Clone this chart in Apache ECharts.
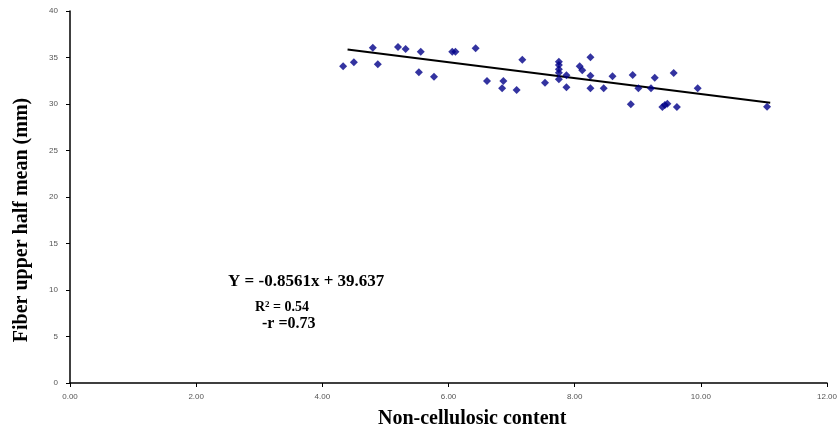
<!DOCTYPE html>
<html><head><meta charset="utf-8">
<script src="https://cdn.jsdelivr.net/npm/echarts@6/dist/echarts.min.js"></script>
<style>html,body{margin:0;padding:0;background:#fff}#c{width:840px;height:432px}</style>
</head><body><div id="c"></div>
<script>
const xValues = [4.33,4.50,4.80,4.88,5.20,5.32,5.56,5.53,5.77,6.06,6.11,6.43,6.61,6.87,6.85,7.08,7.17,7.53,7.75,7.75,7.75,7.75,7.75,7.87,7.87,8.08,8.12,8.25,8.25,8.25,8.46,8.60,8.92,9.01,8.89,9.21,9.27,9.57,9.39,9.43,9.47,9.62,9.95,11.05];
const yValues = [34.05,34.48,36.05,34.27,36.13,35.91,35.62,33.41,32.94,35.62,35.62,35.99,32.47,32.47,31.69,31.51,34.76,32.29,34.55,34.19,33.73,33.37,32.66,33.09,31.80,34.05,33.62,35.02,33.04,31.69,31.69,32.98,33.12,31.69,29.97,31.69,32.83,33.33,29.68,29.89,30.03,29.68,31.69,29.71];
const slope = -0.8561, intercept = 39.637;
const trendX = [4.4, 11.1];
const xTicks = [0,2,4,6,8,10,12];
const yTicks = [0,5,10,15,20,25,30,35,40];
const eqLines = ['Y = -0.8561x + 39.637', 'R{s|2} = 0.54', '-r =0.73'];

const chart = echarts.init(document.getElementById('c'));
const pts = xValues.map((x,i)=>[x,yValues[i]]);
const trend = trendX.map(x=>[x, slope*x+intercept]);
const serif = '"Liberation Serif","Times New Roman",serif';
chart.setOption({
  animation:false,
  grid:{left:70,right:10,top:11,bottom:49},
  xAxis:{type:'value',min:0,max:12,interval:2,
    axisLine:{lineStyle:{color:'#000',width:1.5}},
    axisTick:{show:true,length:4,lineStyle:{color:'#000'}},
    splitLine:{show:false},
    axisLabel:{fontSize:8,color:'#555',fontFamily:'Arial,"Liberation Sans",sans-serif',margin:10,formatter:v=>v.toFixed(2)}},
  yAxis:{type:'value',min:0,max:40,interval:5,
    axisLine:{show:true,lineStyle:{color:'#000',width:1.5}},
    axisTick:{show:true,length:4,lineStyle:{color:'#000'}},
    splitLine:{show:false},
    axisLabel:{fontSize:8,color:'#555',fontFamily:'Arial,"Liberation Sans",sans-serif',margin:12}},
  graphic:[
    {type:'text',left:378,top:409,style:{text:'Non-cellulosic content',font:'bold 20px '+serif,fill:'#000'}},
    {type:'text',x:22,y:220,rotation:Math.PI/2,style:{text:'Fiber upper half mean (mm)',font:'bold 20px '+serif,fill:'#000',align:'center',verticalAlign:'middle'}},
    {type:'text',left:228,top:273,style:{text:eqLines[0],font:'bold 17px '+serif,fill:'#000'}},
    {type:'text',left:255,top:300,style:{text:eqLines[1],font:'bold 14px '+serif,fill:'#000',rich:{s:{fontSize:9,verticalAlign:'top',fontWeight:'bold',fontFamily:serif,padding:[0,0,6,0]}}}},
    {type:'text',left:262,top:316,style:{text:eqLines[2],font:'bold 16px '+serif,fill:'#000'}}
  ],
  series:[
    {type:'line',data:trend,symbol:'none',lineStyle:{color:'#000',width:2},z:1},
    {type:'scatter',data:pts,symbol:'diamond',symbolSize:8,itemStyle:{color:'#000088'},z:2}
  ]
});
</script></body></html>
